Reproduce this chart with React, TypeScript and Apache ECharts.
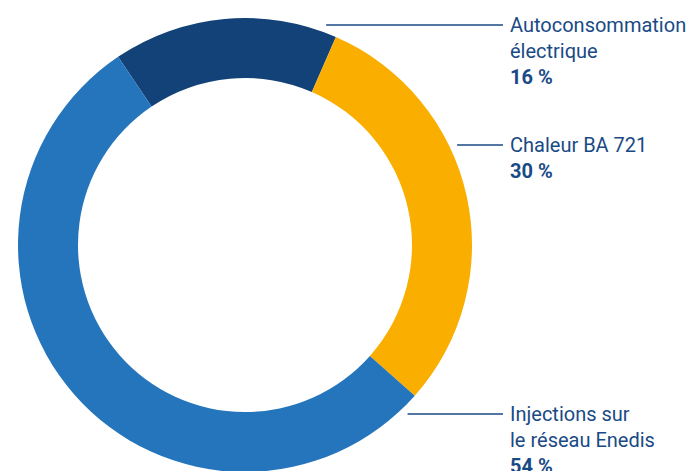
import React, { useEffect, useRef } from "react";
import * as echarts from "echarts";

const categories = ["Autoconsommation\nélectrique", "Chaleur BA 721", "Injections sur\nle réseau Enedis"];
const shares = [16, 30, 54];
const colors = ["#124277", "#F9AE00", "#2575BC"];

const CX = 245;
const CY = 245;
const R_IN = 167;
const R_OUT = 227;
const LINE_R = 234.5;
const LINE_END_X = 503;
const TEXT_X = 510;
const LINE_Y = [25, 145, 414];
const TEXT_COLOR = "#1A4A85";

export default function App() {
  const ref = useRef<HTMLDivElement>(null);
  useEffect(() => {
    document.body.style.margin = "0";
    const chart = echarts.init(ref.current!, undefined, { renderer: "svg" });
    chart.setOption({
      animation: false,
      backgroundColor: "#ffffff",
      series: [
        {
          type: "pie",
          center: [CX, CY],
          radius: [R_IN, R_OUT],
          startAngle: 124,
          clockwise: true,
          avoidLabelOverlap: false,
          silent: true,
          data: categories.map((name, i) => ({
            name,
            value: shares[i],
            itemStyle: { color: colors[i] },
          })),
          label: {
            show: true,
            position: "outside",
            fontFamily: "Roboto",
            formatter: (p: any) =>
              String(p.name)
                .split("\n")
                .map((s: string) => `{n|${s}}`)
                .join("\n") + `\n{p|${p.value} %}`,
            rich: {
              n: { fontFamily: "Roboto", fontSize: 20, lineHeight: 26, color: TEXT_COLOR },
              p: { fontFamily: "Roboto", fontSize: 20, lineHeight: 26, fontWeight: "bold", color: TEXT_COLOR },
            },
          },
          labelLine: {
            show: true,
            lineStyle: { color: TEXT_COLOR, width: 1.3 },
          },
          labelLayout: (params: any) => {
            const y = LINE_Y[params.dataIndex];
            const dy = y - CY;
            const x0 = CX + Math.sqrt(LINE_R * LINE_R - dy * dy);
            return {
              x: TEXT_X,
              y: y - 13,
              align: "left",
              verticalAlign: "top",
              labelLinePoints: [
                [x0, y],
                [LINE_END_X, y],
                [LINE_END_X, y],
              ],
            };
          },
        },
      ],
    });
    return () => chart.dispose();
  }, []);
  return <div ref={ref} style={{ width: 694, height: 471 }} />;
}
